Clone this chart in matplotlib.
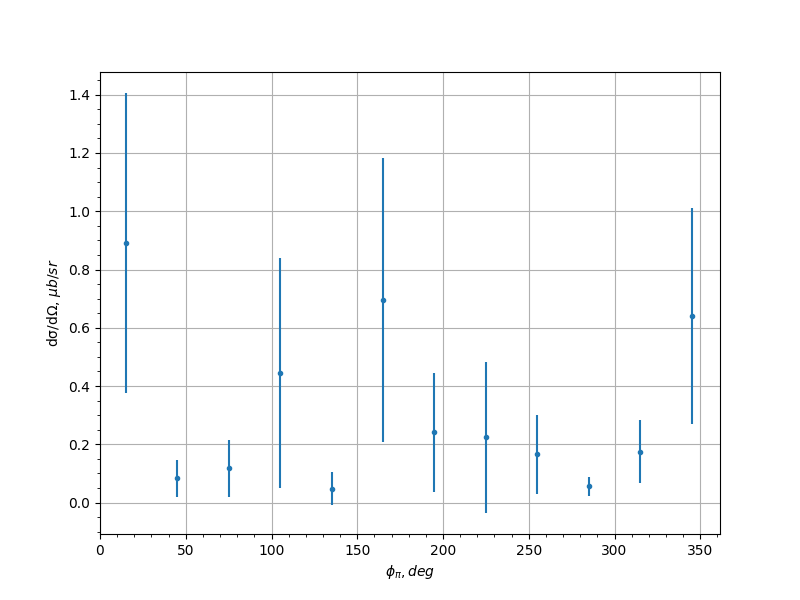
import matplotlib
matplotlib.use("Agg")
import matplotlib.pyplot as plt

phi = [15, 45, 75, 105, 135, 165, 195, 225, 255, 285, 315, 345]
xsec = [0.891, 0.083, 0.117, 0.444, 0.048, 0.695, 0.241, 0.224, 0.165, 0.055, 0.175, 0.640]
xsec_err = [0.515, 0.064, 0.098, 0.395, 0.056, 0.487, 0.205, 0.260, 0.137, 0.034, 0.107, 0.370]

fig = plt.figure(figsize=(8, 6), dpi=100)
plt.errorbar(phi, xsec, yerr=xsec_err, fmt='.')
plt.xlabel(r"$\phi_\pi, deg$")
plt.ylabel(r"dσ/dΩ, $\mu b/sr$")
plt.xlim(left=0)
plt.minorticks_on()
plt.grid()
plt.savefig("out.png")
